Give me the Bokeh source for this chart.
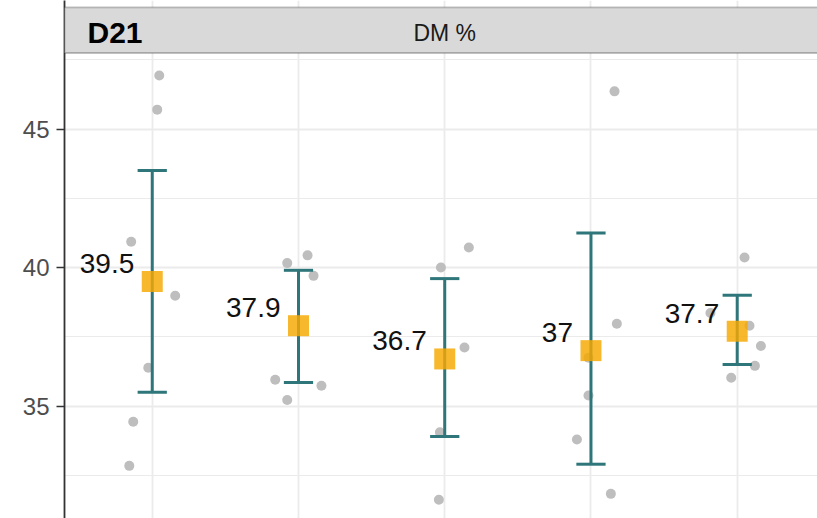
from bokeh.plotting import figure
from bokeh.models import FixedTicker, BoxAnnotation, Label, ColumnDataSource
from bokeh.embed import file_html
from bokeh.resources import INLINE
from bokeh.core.properties import value

# ---- data ----
groups = [1, 2, 3, 4, 5]
means = [39.5, 37.9, 36.7, 37.0, 37.7]
mean_labels = ["39.5", "37.9", "36.7", "37", "37.7"]
err_lo = [35.5, 35.85, 33.9, 32.9, 36.5]
err_hi = [43.5, 39.9, 39.6, 41.25, 39.0]

pt_group = [1, 1, 1, 1, 1, 1, 1,
            2, 2, 2, 2, 2, 2,
            3, 3, 3, 3, 3,
            4, 4, 4, 4, 4, 4,
            5, 5, 5, 5, 5, 5]
pt_jitter = [0.048, 0.034, -0.144, 0.157, -0.027, -0.130, -0.157,
             -0.077, 0.062, 0.103, -0.159, -0.077, 0.157,
             0.165, -0.026, 0.135, -0.033, -0.040,
             0.161, 0.177, -0.017, -0.017, -0.096, 0.136,
             0.050, -0.183, 0.084, 0.162, 0.121, -0.041]
pt_value = [46.93, 45.70, 40.93, 38.98, 36.38, 34.43, 32.84,
            40.16, 40.44, 39.70, 35.95, 35.22, 35.73,
            40.72, 40.00, 37.11, 34.05, 31.62,
            46.36, 37.97, 36.74, 35.38, 33.79, 31.83,
            40.36, 38.36, 37.90, 37.17, 36.45, 36.02]

y_ticks = [35, 40, 45]
y_minor = [32.5, 37.5, 42.5, 47.5]
strip_title = "DM %"
tag = "D21"

# ---- layout ----
X0, X1 = 0.4, 5.549
Y0, Y1 = 30.94, 49.64
STRIP_BOTTOM = 47.744
STRIP_TOP = 49.39

FONT = "Liberation Sans"
TEAL = "#2F767A"

p = figure(width=817, height=518, x_range=(X0, X1), y_range=(Y0, Y1),
           output_backend="svg", toolbar_location=None,
           min_border_left=64, min_border_right=0, min_border_top=0, min_border_bottom=0)
p.outline_line_color = None
p.background_fill_color = "white"
p.border_fill_color = "white"

p.xaxis.visible = False
p.xgrid.ticker = FixedTicker(ticks=groups)
p.xgrid.grid_line_color = "#EBEBEB"
p.xgrid.grid_line_width = 1.8

p.yaxis.ticker = FixedTicker(ticks=y_ticks, minor_ticks=y_minor)
p.ygrid.grid_line_color = "#EBEBEB"
p.ygrid.grid_line_width = 1.8
p.ygrid.minor_grid_line_color = "#EBEBEB"
p.ygrid.minor_grid_line_width = 1.2

ax = p.yaxis[0]
ax.axis_line_color = "#333333"
ax.axis_line_width = 1.8
ax.major_tick_line_color = "#333333"
ax.major_tick_line_width = 1.6
ax.major_tick_out = 8
ax.major_tick_in = 0
ax.minor_tick_line_color = None
ax.major_label_standoff = 7
ax.major_label_text_font = FONT
ax.major_label_text_font_size = "24px"
ax.major_label_text_color = "#4D4D4D"

# points
xs = [g + j for g, j in zip(pt_group, pt_jitter)]
p.scatter(xs, pt_value, size=10, color="#BEBEBE", line_color=None)

# error bars
p.segment(x0=groups, y0=err_lo, x1=groups, y1=err_hi, line_color=TEAL, line_width=3)
cap_l = [g - 0.1 for g in groups]
cap_r = [g + 0.1 for g in groups]
p.segment(x0=cap_l, y0=err_lo, x1=cap_r, y1=err_lo, line_color=TEAL, line_width=3)
p.segment(x0=cap_l, y0=err_hi, x1=cap_r, y1=err_hi, line_color=TEAL, line_width=3)

# means
p.scatter(groups, means, marker="square", size=21, fill_color="#F7A800",
          fill_alpha=0.82, line_color=None)

# labels
src = ColumnDataSource(dict(x=groups, y=means, t=mean_labels))
p.text(x="x", y="y", text="t", source=src, x_offset=-18, y_offset=-18,
       text_align="right", text_baseline="middle",
       text_font=value(FONT), text_font_size="28px", text_color="#111111")

# strip
p.add_layout(BoxAnnotation(left=X0, right=X1 + 1, bottom=STRIP_BOTTOM, top=STRIP_TOP,
                           fill_color="#D9D9D9", fill_alpha=1.0,
                           line_color="#333333", line_width=1.8, level="annotation"))
p.add_layout(Label(x=3.0, y=48.47, text=strip_title, text_align="center",
                   text_baseline="middle", text_font=FONT, text_font_size="23px",
                   text_color="#1A1A1A"))
p.add_layout(Label(x=0.557, y=48.47, text=tag, text_align="left",
                   text_baseline="middle", text_font=FONT, text_font_size="30px",
                   text_font_style="bold", text_color="#000000"))

open("out.html", "w").write(file_html(p, INLINE))
